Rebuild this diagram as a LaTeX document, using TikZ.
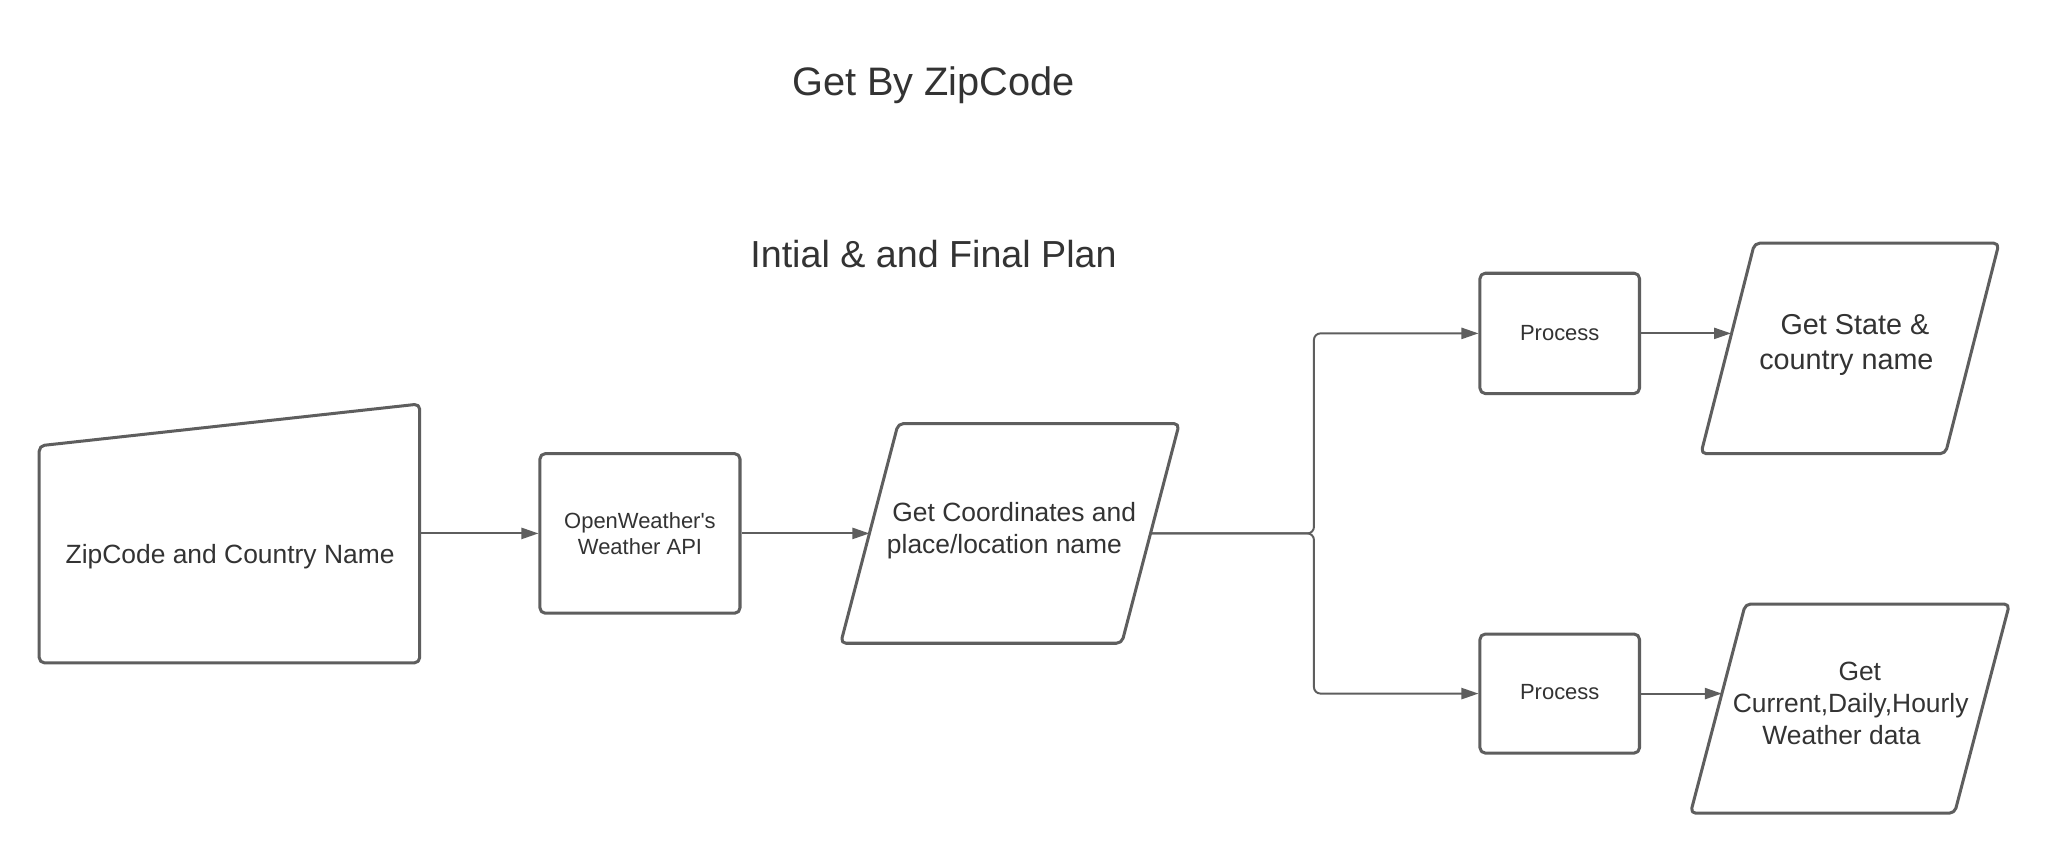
\documentclass[tikz,border=0pt]{standalone}
\usepackage{fontspec}
\setmainfont{Liberation Sans}
\usetikzlibrary{arrows.meta}
\definecolor{strokegray}{HTML}{5E5E5E}
\definecolor{textgray}{HTML}{333333}
\begin{document}
\begin{tikzpicture}[x=1pt,y=-1pt,
  outline/.style={draw=strokegray, line width=2.3pt, rounded corners=4pt, line join=round},
  boxnode/.style={outline, text=textgray, align=center, inner sep=0pt, font=\fontsize{16.8}{20}\selectfont},
  conn/.style={draw=strokegray, line width=1.5pt, -{Triangle[length=13pt,width=8.5pt]}},
  lbl/.style={text=textgray, align=center, inner sep=0pt, font=\fontsize{20.2}{24.5}\selectfont},
  ttl/.style={text=textgray, inner sep=0pt}]
\useasboundingbox[fill=white] (0,0) rectangle (1568,653.2);

% titles
\node[ttl, font=\fontsize{30.4}{36}\selectfont] (title) at (714,65) {Get By ZipCode};
\node[ttl, font=\fontsize{28.8}{34}\selectfont] (plan) at (714,194) {Intial \& and Final Plan};

% manual input trapezoid
\draw[outline] (30,341) -- (321,309) -- (321,507) -- (30,507) -- cycle;
\node[lbl] (zip) at (176,426) {ZipCode and Country Name};
\coordinate (zipE) at (321,408);

% API box
\node[boxnode, minimum width=153pt, minimum height=122pt] (api) at (489.5,408) {OpenWeather\textquotesingle s\\Weather API};

% parallelogram 1
\draw[outline] (687,324) -- (902,324) -- (858,492) -- (643,492) -- cycle;
\node[lbl] (coord) at (772,406) {\hspace*{7.5pt}Get Coordinates and\\place/location name\hspace*{7.5pt}};
\coordinate (pg1W) at (665,408);
\coordinate (pg1E) at (880,408);
\coordinate (split) at (1005,408);

% process boxes
\node[boxnode, minimum width=122pt, minimum height=92pt] (p1) at (1193,255) {Process};
\node[boxnode, minimum width=122pt, minimum height=91pt, text depth=2pt] (p2) at (1193,530.5) {Process};

% parallelogram 2
\draw[outline] (1342,186) -- (1529,186) -- (1488,347) -- (1301,347) -- cycle;
\node[lbl, font=\fontsize{22}{27}\selectfont] (state) at (1415.5,264) {\hspace*{6.5pt}Get State \&\\country name\hspace*{6.5pt}};
\coordinate (pg2W) at (1324,255);

% parallelogram 3
\draw[outline] (1335,462) -- (1537,462) -- (1495,622) -- (1293,622) -- cycle;
\node[lbl] (weather) at (1415.5,538) {\hspace*{14pt}Get\\Current,Daily,Hourly\\Weather data\hspace*{14pt}};
\coordinate (pg3W) at (1317,530.5);

% connectors
\draw[conn] (zipE) -- (api.west);
\draw[conn] (api.east) -- (pg1W);
\draw[conn, rounded corners=5pt] (pg1E) -- (split) |- (p1.west);
\draw[conn, rounded corners=5pt] (pg1E) -- (split) |- (p2.west);
\draw[conn] (p1.east) -- (pg2W);
\draw[conn] (p2.east) -- (pg3W);
\end{tikzpicture}
\end{document}
